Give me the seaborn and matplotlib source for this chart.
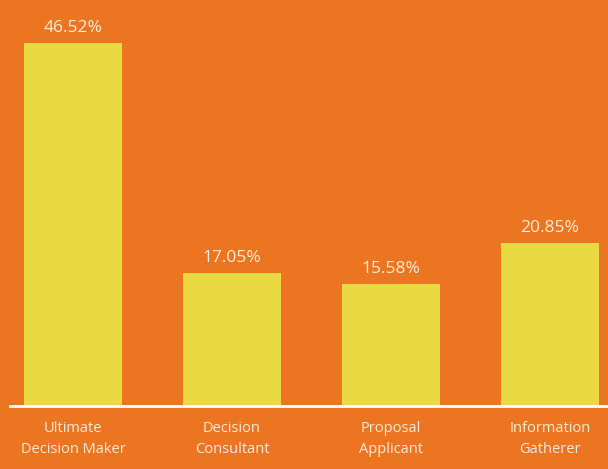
import matplotlib
matplotlib.use("Agg")
import matplotlib.pyplot as plt
import seaborn as sns
import pandas as pd

categories = ["Ultimate\nDecision Maker", "Decision\nConsultant", "Proposal\nApplicant", "Information\nGatherer"]
values = [46.52, 17.05, 15.58, 20.85]
value_labels = ["46.52%", "17.05%", "15.58%", "20.85%"]

sns.set_style("white")
plt.rcParams['font.family'] = ['Open Sans', 'DejaVu Sans']

bg = "#EC7521"
bar_color = "#E9D943"

fig = plt.figure(figsize=(6.08, 4.69), dpi=100, facecolor=bg)
ax = fig.add_axes([10/608, 1 - 406/469, 598/608, 406/469])
ax.set_facecolor(bg)

df = pd.DataFrame({"cat": categories, "val": values})
sns.barplot(data=df, x="cat", y="val", color=bar_color, width=0.62, saturation=1, ax=ax, edgecolor="none")

ax.set_ylim(0, 52)
ax.set_xlim(-0.396, 3.365)
for i, (v, lab) in enumerate(zip(values, value_labels)):
    ax.text(i, v + 0.9, lab, ha="center", va="bottom", color="#FBEBD8", fontsize=12.5)

for s in ["top", "right", "left"]:
    ax.spines[s].set_visible(False)
ax.spines["bottom"].set_color("white")
ax.spines["bottom"].set_linewidth(2)
ax.set_yticks([])
ax.set_xlabel("")
ax.set_ylabel("")
ax.tick_params(axis="x", length=0, pad=11, labelsize=10.5, labelcolor="#FBEBD8")
for t in ax.get_xticklabels():
    t.set_linespacing(1.5)

fig.savefig("out.png", dpi=100, facecolor=bg)
